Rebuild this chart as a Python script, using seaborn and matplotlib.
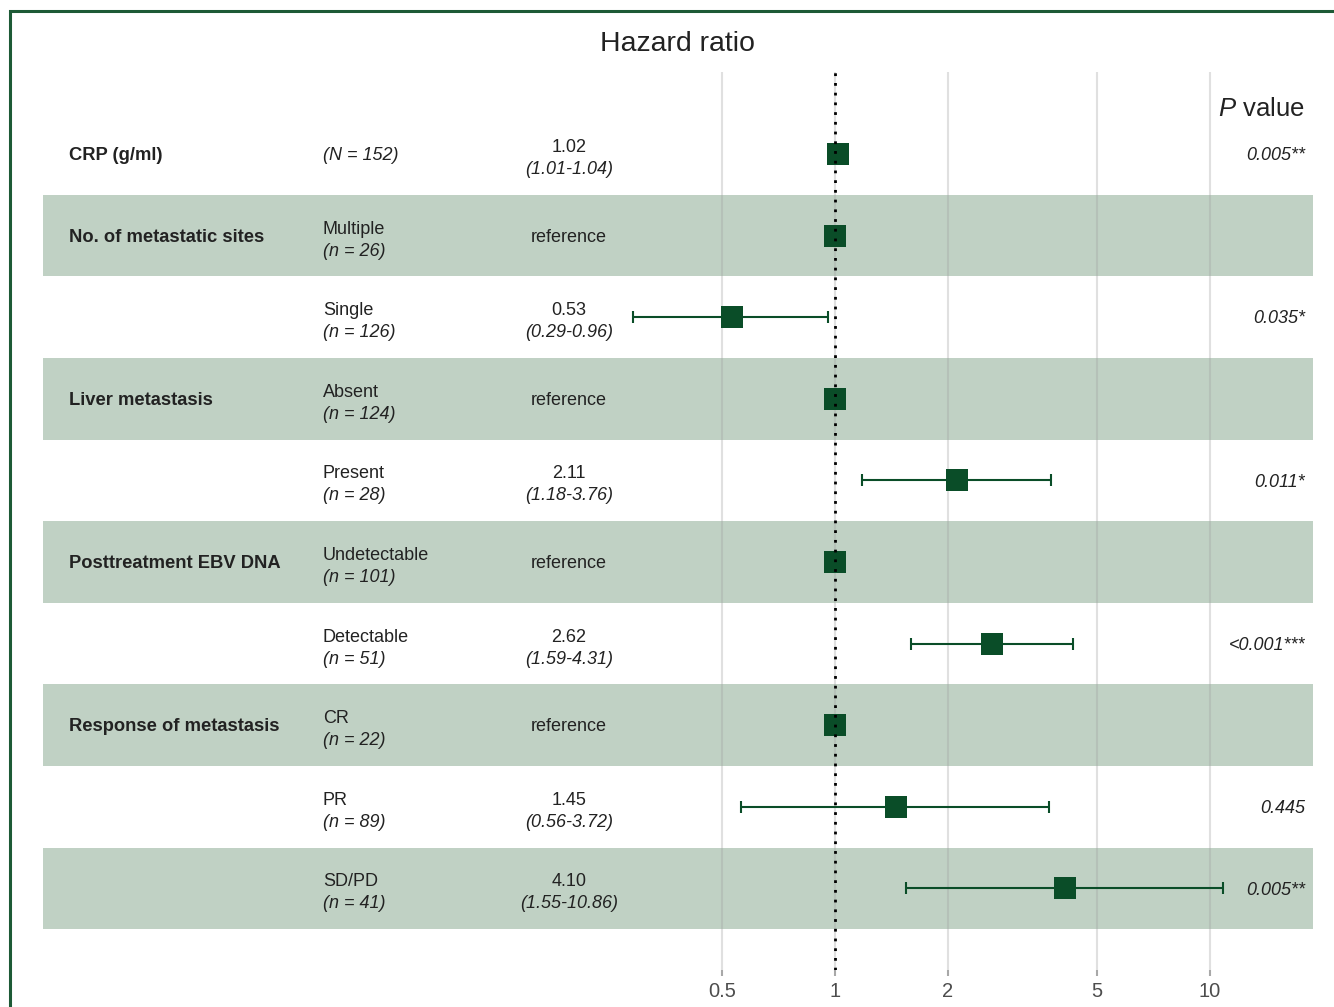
import numpy as np
import pandas as pd
import matplotlib
matplotlib.use("Agg")
import matplotlib.pyplot as plt
import matplotlib.transforms as mtransforms
from matplotlib.patches import Rectangle
import seaborn as sns

# ---- data -------------------------------------------------------------
categories = ["CRP (g/ml)", "No. of metastatic sites", "", "Liver metastasis", "",
              "Posttreatment EBV DNA", "", "Response of metastasis", "", ""]
levels = ["", "Multiple", "Single", "Absent", "Present", "Undetectable",
          "Detectable", "CR", "PR", "SD/PD"]
counts = ["(N = 152)", "(n = 26)", "(n = 126)", "(n = 124)", "(n = 28)",
          "(n = 101)", "(n = 51)", "(n = 22)", "(n = 89)", "(n = 41)"]
is_reference = [False, True, False, True, False, True, False, True, False, False]
hazard_ratio = [1.02, 1.00, 0.53, 1.00, 2.11, 1.00, 2.62, 1.00, 1.45, 4.10]
ci_lower = [1.01, np.nan, 0.29, np.nan, 1.18, np.nan, 1.59, np.nan, 0.56, 1.55]
ci_upper = [1.04, np.nan, 0.96, np.nan, 3.76, np.nan, 4.31, np.nan, 3.72, 10.86]
p_values = ["0.005**", "", "0.035*", "", "0.011*", "", "<0.001***", "",
            "0.445", "0.005**"]
x_ticks = [0.5, 1, 2, 5, 10]
x_ticklabels = ["0.5", "1", "2", "5", "10"]

df = pd.DataFrame({
    "row": np.arange(len(levels)),
    "hr": hazard_ratio,
    "lo": ci_lower,
    "hi": ci_upper,
})

# ---- style ------------------------------------------------------------
sns.set_theme(style="white")
plt.rcParams["font.family"] = ["Liberation Sans", "DejaVu Sans"]
plt.rcParams["mathtext.fontset"] = "custom"
plt.rcParams["mathtext.rm"] = "Liberation Sans"
plt.rcParams["mathtext.it"] = "Liberation Sans:italic"

GREEN = "#0a4d28"
BAND = "#c0d1c4"
TEXT = "#222222"
FS = 13

W, H = 1334, 1007
fig = plt.figure(figsize=(W / 100, H / 100), dpi=100)
fig.patch.set_facecolor("white")

left_px, right_px, top_px, bottom_px = 43, 1313, 72, 970
ax = fig.add_axes([left_px / W, 1 - bottom_px / H,
                   (right_px - left_px) / W, (bottom_px - top_px) / H])
ax.set_facecolor("none")

ax.set_xscale("log")
ax.set_xlim(10 ** ((left_px - 835) / 375), 10 ** ((right_px - 835) / 375))
ax.set_ylim(10.0, -1.005)

# alternating background bands
for r in range(1, len(levels), 2):
    ax.axhspan(r - 0.5, r + 0.5, color=BAND, lw=0, zorder=0)

# vertical reference grid
for t in x_ticks:
    ax.axvline(t, color="#a0a0a0", alpha=0.32, lw=1.5, zorder=0.5)

# confidence intervals
ci = df.dropna()
ax.errorbar(ci["hr"], ci["row"],
            xerr=[ci["hr"] - ci["lo"], ci["hi"] - ci["hr"]],
            fmt="none", ecolor=GREEN, elinewidth=1.5, capsize=4.5,
            capthick=1.5, zorder=2)

# point estimates
sns.scatterplot(data=df, x="hr", y="row", marker="s", s=250, color=GREEN,
                edgecolor=GREEN, linewidth=0, ax=ax, zorder=3, legend=False)

# line of no effect
ax.axvline(1, color="black", lw=2, linestyle=(0, (1, 2.5)), zorder=4)

# axes decoration
ax.set_xticks(x_ticks)
ax.set_xticklabels(x_ticklabels)
ax.xaxis.set_minor_locator(matplotlib.ticker.NullLocator())
ax.tick_params(axis="x", length=4.3, width=1.5, color="#a8a8a8",
               labelsize=14.5, labelcolor="#4d4d4d", pad=4, bottom=True)
ax.set_yticks([])
ax.set_xlabel("")
ax.set_ylabel("")
for s in ax.spines.values():
    s.set_visible(False)

# ---- text columns -----------------------------------------------------
tr = mtransforms.blended_transform_factory(ax.transAxes, ax.transData)
span = right_px - left_px
x_cat = (69 - left_px) / span
x_lvl = (323 - left_px) / span
x_hr = (569 - left_px) / span
x_p = (1305 - left_px) / span

L1, L2, SINGLE = -0.025, 0.245, 0.075
for i in range(len(levels)):
    if categories[i]:
        ax.text(x_cat, i + SINGLE, categories[i], transform=tr, ha="left",
                va="baseline", fontsize=13.2, fontweight="bold", color=TEXT)
    if levels[i]:
        ax.text(x_lvl, i + L1, levels[i], transform=tr, ha="left",
                va="baseline", fontsize=FS, color=TEXT)
        ax.text(x_lvl, i + L2, counts[i], transform=tr, ha="left",
                va="baseline", fontsize=FS, style="italic", color=TEXT)
    else:
        ax.text(x_lvl, i + SINGLE, counts[i], transform=tr, ha="left",
                va="baseline", fontsize=FS, style="italic", color=TEXT)
    if is_reference[i]:
        ax.text(x_hr, i + SINGLE, "reference", transform=tr, ha="center",
                va="baseline", fontsize=FS, color=TEXT)
    else:
        ax.text(x_hr, i + L1, f"{hazard_ratio[i]:.2f}", transform=tr,
                ha="center", va="baseline", fontsize=FS, color=TEXT)
        ax.text(x_hr, i + L2, f"({ci_lower[i]:.2f}-{ci_upper[i]:.2f})",
                transform=tr, ha="center", va="baseline", fontsize=FS,
                style="italic", color=TEXT)
    if p_values[i]:
        ax.text(x_p, i + SINGLE, p_values[i], transform=tr, ha="right",
                va="baseline", fontsize=FS, style="italic", color=TEXT)

# headers
ax.text(x_p, -0.47, r"$\mathit{P}$ value", transform=tr, ha="right",
        va="baseline", fontsize=18.5, color=TEXT)
fig.text(678 / W, 1 - 44 / H, "Hazard ratio", ha="center", va="center",
         fontsize=20.5, color=TEXT)

# outer frame
fig.add_artist(Rectangle((10 / W, -0.2), 1.5, 1.2 - 11 / H,
                         transform=fig.transFigure, fill=False,
                         edgecolor="#1d5a36", lw=2.2, clip_on=False))

fig.savefig("out.png", dpi=100, facecolor="white")
